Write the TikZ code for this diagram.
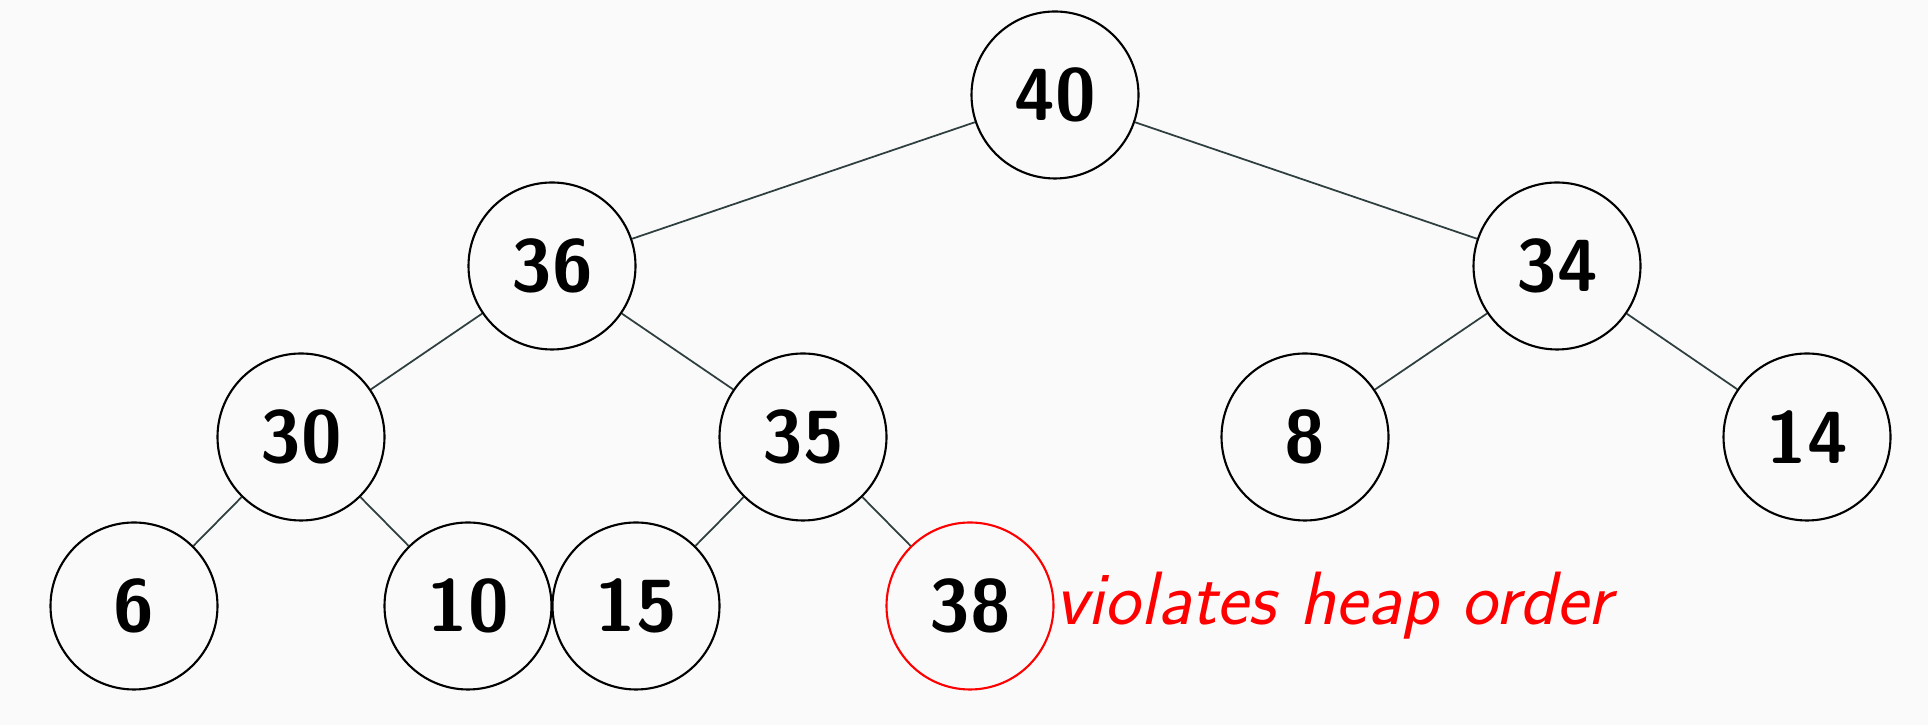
\documentclass[tikz,border=0pt]{standalone}
\usepackage{fontspec}
\usetikzlibrary{positioning}
\definecolor{bgcol}{HTML}{FAFAFA}
\definecolor{edgecol}{HTML}{2F3F3F}

\begin{document}
\begin{tikzpicture}[
  key/.style={circle, draw, line width=0.6pt, minimum size=1.67cm, inner sep=0pt,
    font=\fontsize{21}{25}\selectfont\sffamily\bfseries},
  link/.style={draw=edgecol, line width=0.5pt}]
\fill[bgcol] (0,0) rectangle (19.28,7.25);
% keys, level by level
\node[key] (n40) at (10.55,6.30) {40};
\node[key] (n36) at (5.52,4.59) {36};
\node[key] (n34) at (15.57,4.59) {34};
\node[key] (n30) at (3.01,2.88) {30};
\node[key] (n35) at (8.03,2.88) {35};
\node[key] (n8) at (13.05,2.88) {8};
\node[key] (n14) at (18.07,2.88) {14};
\node[key] (n6) at (1.34,1.19) {6};
\node[key] (n10) at (4.68,1.19) {10};
\node[key] (n15) at (6.36,1.19) {15};
\node[key, draw=red] (n38) at (9.70,1.19) {38};
\node[right=0pt of n38, inner sep=0pt, text=red,
  font=\fontsize{21.5}{25}\selectfont\sffamily\itshape] (note) {violates heap order};
% parent -- child
\foreach \a/\b in {n40/n36, n40/n34, n36/n30, n36/n35, n34/n8, n34/n14,
                   n30/n6, n30/n10, n35/n15, n35/n38}
  \draw[link] (\a) -- (\b);
\end{tikzpicture}
\end{document}
